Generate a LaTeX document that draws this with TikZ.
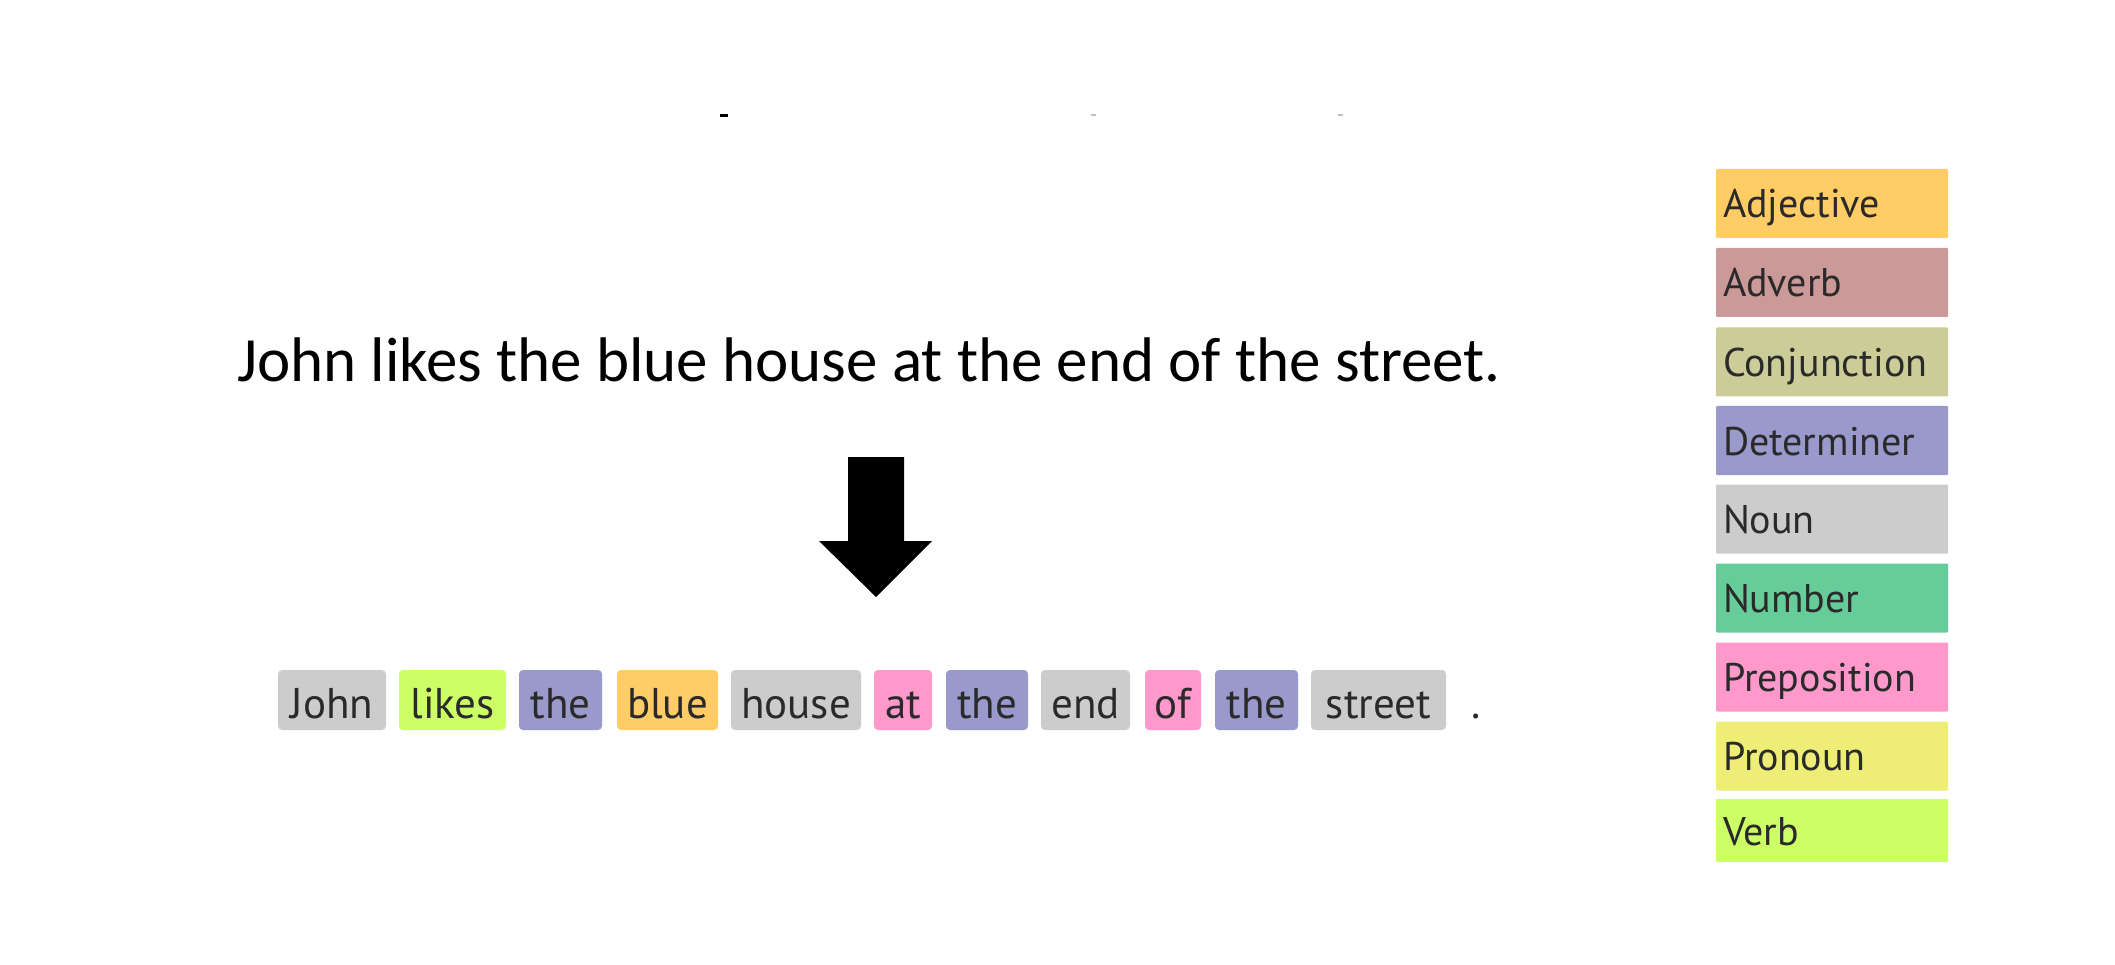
\documentclass[tikz,border=0pt]{standalone}
\usepackage{fontspec}
\setmainfont{Carlito}
\newfontfamily\tokenfont{PT Sans}

\definecolor{textgrey}{HTML}{2A2A2A}
\definecolor{adjcol}{HTML}{FFCC66}
\definecolor{advcol}{HTML}{CC9999}
\definecolor{conjcol}{HTML}{CCCC99}
\definecolor{detcol}{HTML}{9999CC}
\definecolor{nouncol}{HTML}{CCCCCC}
\definecolor{numcol}{HTML}{66CC99}
\definecolor{prepcol}{HTML}{FF99CC}
\definecolor{proncol}{HTML}{EEEE77}
\definecolor{verbcol}{HTML}{CCFF66}

\begin{document}
\begin{tikzpicture}[x=1pt, y=-1pt,
    tok/.style={rounded corners=4pt, minimum height=60pt, inner sep=0pt,
        text height=36pt, text depth=0pt, text=textgrey,
        font=\tokenfont\fontsize{43}{50}\selectfont},
    legend/.style={rounded corners=1pt, minimum height=69pt, inner xsep=7pt, inner ysep=0pt,
        text width=218pt, align=left, text height=29pt, text depth=0pt, text=textgrey,
        font=\tokenfont\fontsize{40}{48}\selectfont}]
    \useasboundingbox[fill=white] (0,0) rectangle (2115,965);

    % Remnants at the top edge
    \fill (720,114) rectangle (728,117);
    \fill[gray!50] (1091,114) rectangle (1096,116);
    \fill[gray!50] (1338,114) rectangle (1343,116);

    % The plain sentence
    \node[anchor=base west, inner sep=0pt, font=\fontsize{63}{75}\selectfont] (sentence) at (237,382)
        {John likes the blue house at the end of the street.};

    % Draw the arrow
    \fill (848,457) -- (904,457) -- (904,541) -- (932,541) -- (876,597)
        -- (819,541) -- (848,541) -- cycle;

    % Draw the tagged tokens
    \node[tok, fill=nouncol, minimum width=108pt] (tokJohn) at (332,700) {John};
    \node[tok, fill=verbcol, minimum width=107pt] (tokLikes) at (452.5,700) {likes};
    \node[tok, fill=detcol, minimum width=83pt] (tokThe1) at (560.5,700) {the};
    \node[tok, fill=adjcol, minimum width=101pt] (tokBlue) at (667.5,700) {blue};
    \node[tok, fill=nouncol, minimum width=130pt] (tokHouse) at (796,700) {house};
    \node[tok, fill=prepcol, minimum width=58pt] (tokAt) at (903,700) {at};
    \node[tok, fill=detcol, minimum width=82pt] (tokThe2) at (987,700) {the};
    \node[tok, fill=nouncol, minimum width=89pt] (tokEnd) at (1085.5,700) {end};
    \node[tok, fill=prepcol, minimum width=56pt] (tokOf) at (1173,700) {of};
    \node[tok, fill=detcol, minimum width=83pt] (tokThe3) at (1256.5,700) {the};
    \node[tok, fill=nouncol, minimum width=135pt] (tokStreet) at (1378.5,700) {street};
    \node[anchor=base, inner sep=0pt, text=textgrey, font=\tokenfont\fontsize{43}{50}\selectfont]
        (tokDot) at (1476,718) {.};

    % Draw the legend
    \node[legend, fill=adjcol] (legAdj) at (1832,203.5) {Adjective};
    \node[legend, fill=advcol] (legAdv) at (1832,282.5) {Adverb};
    \node[legend, fill=conjcol] (legConj) at (1832,362) {Conjunction};
    \node[legend, fill=detcol] (legDet) at (1832,440.5) {Determiner};
    \node[legend, fill=nouncol] (legNoun) at (1832,519) {Noun};
    \node[legend, fill=numcol] (legNum) at (1832,598) {Number};
    \node[legend, fill=prepcol] (legPrep) at (1832,677) {Preposition};
    \node[legend, fill=proncol] (legPron) at (1832,756) {Pronoun};
    \node[legend, fill=verbcol, minimum height=63pt] (legVerb) at (1832,830.5) {Verb};

\end{tikzpicture}
\end{document}
